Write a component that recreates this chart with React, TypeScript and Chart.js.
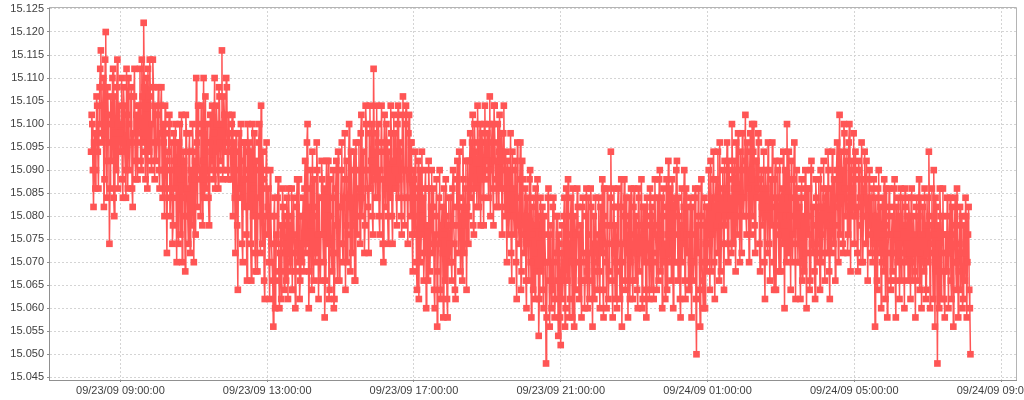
import React, { useEffect, useRef } from "react";
import { Chart, registerables } from "chart.js";

Chart.register(...registerables);

// one sample per minute, starting 09/23/09 08:12:00 (minutes since 09/23/09 00:00)
const START_MINUTE = 8 * 60 + 12;
const STEP_MINUTES = 1;

// even minutes (08:12, 08:14, ...), one line per half hour
const evenMinuteValues: number[] = [
  15.094, 15.100, 15.082, 15.098, 15.090, 15.104, 15.086, 15.108, 15.116,
  15.096, 15.110, 15.088, 15.120, 15.084, 15.102, 15.074, 15.106, 15.092, 15.112, 15.080, 15.098, 15.108, 15.086, 15.104,
  15.094, 15.110, 15.084, 15.104, 15.090, 15.112, 15.086, 15.100, 15.096, 15.108, 15.082, 15.106, 15.092, 15.102, 15.088,
  15.098, 15.112, 15.090, 15.106, 15.122, 15.094, 15.110, 15.086, 15.104, 15.114, 15.092, 15.100, 15.108, 15.088, 15.102,
  15.096, 15.108, 15.086, 15.104, 15.090, 15.100, 15.080, 15.098, 15.072, 15.094, 15.102, 15.084, 15.096, 15.078, 15.092,
  15.100, 15.070, 15.090, 15.096, 15.076, 15.102, 15.084, 15.092, 15.068, 15.098, 15.080, 15.094, 15.072, 15.088, 15.100,
  15.070, 15.092, 15.110, 15.082, 15.098, 15.088, 15.104, 15.078, 15.110, 15.094, 15.086, 15.100, 15.084, 15.096, 15.090,
  15.104, 15.088, 15.110, 15.094, 15.100, 15.086, 15.106, 15.092, 15.116, 15.090, 15.102, 15.096, 15.108, 15.088, 15.098,
  15.094, 15.100, 15.080, 15.096, 15.072, 15.090, 15.064, 15.098, 15.084, 15.092, 15.070, 15.088, 15.096, 15.076, 15.100,
  15.082, 15.094, 15.066, 15.100, 15.086, 15.072, 15.092, 15.068, 15.096, 15.080, 15.104, 15.074, 15.088, 15.062, 15.090,
  15.076, 15.086, 15.062, 15.080, 15.070, 15.056, 15.084, 15.066, 15.074, 15.088, 15.060, 15.078, 15.068, 15.082, 15.064,
  15.072, 15.084, 15.062, 15.078, 15.068, 15.086, 15.064, 15.076, 15.060, 15.082, 15.070, 15.088, 15.066, 15.074, 15.080,
  15.068, 15.092, 15.074, 15.100, 15.060, 15.086, 15.078, 15.094, 15.066, 15.082, 15.072, 15.090, 15.062, 15.084, 15.076,
  15.088, 15.070, 15.058, 15.084, 15.074, 15.092, 15.064, 15.080, 15.068, 15.090, 15.062, 15.086, 15.072, 15.094, 15.066,
  15.082, 15.096, 15.070, 15.088, 15.064, 15.092, 15.076, 15.100, 15.068, 15.084, 15.078, 15.094, 15.066, 15.090, 15.080,
  15.096, 15.074, 15.102, 15.084, 15.090, 15.078, 15.100, 15.086, 15.072, 15.104, 15.092, 15.080, 15.112, 15.088, 15.098,
  15.084, 15.100, 15.076, 15.094, 15.088, 15.070, 15.102, 15.082, 15.096, 15.074, 15.090, 15.104, 15.080, 15.092, 15.086,
  15.098, 15.078, 15.104, 15.088, 15.094, 15.076, 15.106, 15.084, 15.100, 15.090, 15.074, 15.102, 15.080, 15.096, 15.068,
  15.088, 15.094, 15.070, 15.084, 15.062, 15.090, 15.076, 15.080, 15.066, 15.086, 15.060, 15.078, 15.092, 15.068, 15.082,
  15.072, 15.086, 15.060, 15.080, 15.056, 15.074, 15.090, 15.064, 15.082, 15.058, 15.076, 15.088, 15.062, 15.078, 15.070,
  15.084, 15.066, 15.090, 15.074, 15.062, 15.088, 15.078, 15.094, 15.068, 15.082, 15.096, 15.072, 15.086, 15.064, 15.092,
  15.080, 15.098, 15.086, 15.102, 15.076, 15.094, 15.090, 15.104, 15.082, 15.100, 15.088, 15.096, 15.078, 15.104, 15.092,
  15.098, 15.084, 15.106, 15.090, 15.100, 15.078, 15.104, 15.088, 15.096, 15.082, 15.102, 15.092, 15.076, 15.098, 15.086,
  15.094, 15.070, 15.090, 15.080, 15.098, 15.066, 15.086, 15.076, 15.092, 15.062, 15.084, 15.074, 15.096, 15.068, 15.088,
  15.072, 15.086, 15.060, 15.080, 15.066, 15.090, 15.058, 15.076, 15.084, 15.062, 15.078, 15.088, 15.054, 15.074, 15.068,
  15.082, 15.060, 15.076, 15.048, 15.070, 15.086, 15.056, 15.078, 15.064, 15.084, 15.058, 15.072, 15.080, 15.054, 15.074,
  15.052, 15.078, 15.066, 15.084, 15.060, 15.074, 15.088, 15.058, 15.080, 15.070, 15.086, 15.056, 15.076, 15.064, 15.082,
  15.062, 15.078, 15.058, 15.084, 15.070, 15.066, 15.086, 15.060, 15.076, 15.072, 15.082, 15.056, 15.080, 15.068, 15.074,
  15.064, 15.084, 15.060, 15.076, 15.088, 15.058, 15.080, 15.070, 15.086, 15.062, 15.074, 15.094, 15.066, 15.082, 15.072,
  15.078, 15.060, 15.086, 15.068, 15.082, 15.056, 15.074, 15.088, 15.064, 15.080, 15.058, 15.084, 15.070, 15.076, 15.062,
  15.086, 15.066, 15.078, 15.060, 15.084, 15.072, 15.088, 15.062, 15.076, 15.082, 15.058, 15.080, 15.070, 15.086, 15.064,
  15.080, 15.062, 15.088, 15.072, 15.084, 15.066, 15.090, 15.076, 15.060, 15.086, 15.074, 15.082, 15.064, 15.092, 15.070,
  15.078, 15.088, 15.060, 15.084, 15.070, 15.092, 15.066, 15.080, 15.058, 15.086, 15.074, 15.090, 15.062, 15.076, 15.082,
  15.064, 15.084, 15.058, 15.076, 15.070, 15.086, 15.050, 15.072, 15.080, 15.056, 15.088, 15.066, 15.078, 15.060, 15.082,
  15.070, 15.090, 15.064, 15.084, 15.076, 15.094, 15.062, 15.088, 15.072, 15.080, 15.096, 15.068, 15.086, 15.074, 15.092,
  15.078, 15.096, 15.070, 15.088, 15.084, 15.100, 15.074, 15.092, 15.068, 15.086, 15.098, 15.080, 15.094, 15.072, 15.090,
  15.084, 15.102, 15.076, 15.094, 15.070, 15.098, 15.088, 15.080, 15.100, 15.072, 15.092, 15.086, 15.096, 15.068, 15.090,
  15.078, 15.094, 15.062, 15.086, 15.072, 15.090, 15.066, 15.082, 15.096, 15.070, 15.088, 15.064, 15.084, 15.076, 15.092,
  15.068, 15.086, 15.094, 15.060, 15.080, 15.100, 15.072, 15.088, 15.064, 15.084, 15.076, 15.096, 15.062, 15.090, 15.070,
  15.082, 15.062, 15.088, 15.074, 15.068, 15.090, 15.060, 15.080, 15.086, 15.066, 15.092, 15.072, 15.078, 15.062, 15.084,
  15.070, 15.088, 15.064, 15.082, 15.076, 15.092, 15.066, 15.086, 15.072, 15.090, 15.062, 15.080, 15.094, 15.074, 15.084,
  15.078, 15.096, 15.070, 15.102, 15.084, 15.090, 15.072, 15.098, 15.080, 15.094, 15.076, 15.100, 15.068, 15.092, 15.086,
  15.074, 15.094, 15.082, 15.068, 15.090, 15.078, 15.096, 15.070, 15.086, 15.080, 15.092, 15.066, 15.088, 15.076, 15.084,
  15.070, 15.088, 15.056, 15.080, 15.064, 15.090, 15.074, 15.060, 15.084, 15.068, 15.078, 15.086, 15.058, 15.076, 15.082,
  15.064, 15.080, 15.072, 15.088, 15.058, 15.076, 15.084, 15.062, 15.086, 15.070, 15.078, 15.060, 15.082, 15.074, 15.066,
  15.080, 15.062, 15.086, 15.070, 15.076, 15.058, 15.084, 15.066, 15.088, 15.072, 15.060, 15.082, 15.068, 15.078, 15.064,
  15.084, 15.094, 15.060, 15.078, 15.072, 15.090, 15.056, 15.082, 15.048, 15.074, 15.086, 15.062, 15.080, 15.068, 15.058,
  15.076, 15.084, 15.060, 15.072, 15.066, 15.082, 15.056, 15.078, 15.070, 15.086, 15.058, 15.074, 15.064, 15.080, 15.062,
  15.072, 15.084, 15.058, 15.076, 15.064, 15.050,
];

// odd minutes (08:13, 08:15, ...), one line per half hour
const oddMinuteValues: number[] = [
  15.102, 15.090, 15.096, 15.086, 15.106, 15.094, 15.100, 15.112, 15.098,
  15.104, 15.082, 15.114, 15.092, 15.108, 15.096, 15.086, 15.100, 15.110, 15.084, 15.106, 15.090, 15.114, 15.094, 15.098,
  15.100, 15.088, 15.108, 15.094, 15.084, 15.102, 15.110, 15.090, 15.106, 15.086, 15.098, 15.112, 15.088, 15.096, 15.104,
  15.104, 15.092, 15.114, 15.096, 15.108, 15.088, 15.102, 15.112, 15.094, 15.106, 15.090, 15.114, 15.096, 15.104, 15.092,
  15.102, 15.090, 15.098, 15.108, 15.084, 15.096, 15.104, 15.086, 15.092, 15.100, 15.080, 15.090, 15.074, 15.098, 15.086,
  15.084, 15.096, 15.074, 15.100, 15.088, 15.070, 15.094, 15.080, 15.102, 15.086, 15.074, 15.098, 15.090, 15.078, 15.094,
  15.088, 15.076, 15.096, 15.104, 15.090, 15.080, 15.100, 15.092, 15.084, 15.106, 15.088, 15.096, 15.078, 15.102, 15.094,
  15.092, 15.098, 15.086, 15.104, 15.090, 15.108, 15.096, 15.100, 15.088, 15.106, 15.094, 15.110, 15.090, 15.102, 15.096,
  15.088, 15.102, 15.092, 15.084, 15.098, 15.078, 15.094, 15.086, 15.100, 15.074, 15.096, 15.082, 15.090, 15.066, 15.094,
  15.096, 15.074, 15.088, 15.080, 15.098, 15.068, 15.090, 15.084, 15.100, 15.072, 15.086, 15.094, 15.066, 15.080, 15.096,
  15.082, 15.070, 15.090, 15.074, 15.066, 15.080, 15.060, 15.076, 15.084, 15.068, 15.072, 15.062, 15.086, 15.074, 15.080,
  15.066, 15.078, 15.086, 15.070, 15.080, 15.064, 15.084, 15.072, 15.068, 15.088, 15.074, 15.062, 15.080, 15.070, 15.084,
  15.086, 15.072, 15.096, 15.082, 15.068, 15.090, 15.064, 15.080, 15.088, 15.070, 15.096, 15.076, 15.084, 15.066, 15.092,
  15.076, 15.086, 15.066, 15.092, 15.080, 15.062, 15.088, 15.072, 15.084, 15.060, 15.078, 15.092, 15.066, 15.082, 15.074,
  15.090, 15.074, 15.084, 15.098, 15.078, 15.070, 15.088, 15.082, 15.094, 15.072, 15.090, 15.066, 15.096, 15.076, 15.086,
  15.084, 15.098, 15.080, 15.094, 15.072, 15.104, 15.090, 15.082, 15.098, 15.086, 15.100, 15.076, 15.094, 15.084, 15.104,
  15.096, 15.080, 15.090, 15.104, 15.074, 15.096, 15.086, 15.100, 15.080, 15.094, 15.084, 15.098, 15.074, 15.102, 15.090,
  15.086, 15.100, 15.084, 15.096, 15.080, 15.102, 15.090, 15.078, 15.104, 15.084, 15.098, 15.088, 15.096, 15.076, 15.090,
  15.076, 15.086, 15.064, 15.092, 15.080, 15.070, 15.094, 15.084, 15.072, 15.090, 15.078, 15.066, 15.086, 15.074, 15.090,
  15.082, 15.064, 15.076, 15.088, 15.068, 15.084, 15.062, 15.078, 15.072, 15.086, 15.066, 15.080, 15.058, 15.084, 15.074,
  15.070, 15.086, 15.078, 15.064, 15.082, 15.092, 15.072, 15.084, 15.080, 15.066, 15.088, 15.078, 15.092, 15.082, 15.074,
  15.092, 15.084, 15.096, 15.078, 15.100, 15.086, 15.082, 15.096, 15.090, 15.078, 15.098, 15.084, 15.100, 15.088, 15.096,
  15.090, 15.100, 15.080, 15.096, 15.086, 15.104, 15.092, 15.082, 15.100, 15.094, 15.086, 15.098, 15.090, 15.104, 15.080,
  15.082, 15.092, 15.076, 15.086, 15.072, 15.094, 15.080, 15.090, 15.070, 15.096, 15.078, 15.088, 15.064, 15.092, 15.076,
  15.080, 15.066, 15.084, 15.074, 15.088, 15.070, 15.082, 15.064, 15.072, 15.086, 15.068, 15.080, 15.062, 15.084, 15.076,
  15.064, 15.080, 15.070, 15.058, 15.084, 15.066, 15.076, 15.060, 15.082, 15.070, 15.062, 15.080, 15.066, 15.076, 15.058,
  15.072, 15.062, 15.080, 15.056, 15.086, 15.066, 15.076, 15.062, 15.084, 15.058, 15.074, 15.080, 15.064, 15.086, 15.070,
  15.076, 15.066, 15.082, 15.072, 15.060, 15.080, 15.068, 15.084, 15.062, 15.086, 15.066, 15.074, 15.062, 15.084, 15.070,
  15.076, 15.068, 15.082, 15.072, 15.064, 15.086, 15.074, 15.060, 15.078, 15.068, 15.084, 15.078, 15.058, 15.086, 15.062,
  15.070, 15.082, 15.074, 15.062, 15.088, 15.070, 15.080, 15.066, 15.084, 15.072, 15.078, 15.062, 15.086, 15.066, 15.082,
  15.072, 15.080, 15.064, 15.086, 15.068, 15.078, 15.060, 15.082, 15.070, 15.064, 15.084, 15.074, 15.062, 15.078, 15.082,
  15.070, 15.084, 15.076, 15.064, 15.078, 15.088, 15.068, 15.084, 15.080, 15.070, 15.062, 15.088, 15.076, 15.072, 15.086,
  15.066, 15.074, 15.082, 15.070, 15.090, 15.076, 15.084, 15.062, 15.078, 15.070, 15.082, 15.066, 15.086, 15.072, 15.064,
  15.076, 15.070, 15.082, 15.066, 15.084, 15.062, 15.078, 15.086, 15.064, 15.080, 15.070, 15.060, 15.084, 15.074, 15.068,
  15.082, 15.074, 15.092, 15.068, 15.088, 15.070, 15.084, 15.078, 15.094, 15.066, 15.084, 15.078, 15.090, 15.064, 15.080,
  15.086, 15.074, 15.092, 15.080, 15.072, 15.090, 15.086, 15.080, 15.096, 15.076, 15.090, 15.070, 15.084, 15.098, 15.080,
  15.092, 15.080, 15.096, 15.086, 15.090, 15.076, 15.100, 15.094, 15.078, 15.092, 15.084, 15.098, 15.074, 15.088, 15.082,
  15.086, 15.070, 15.090, 15.080, 15.096, 15.074, 15.088, 15.078, 15.084, 15.064, 15.092, 15.078, 15.090, 15.068, 15.080,
  15.084, 15.074, 15.078, 15.090, 15.070, 15.084, 15.094, 15.080, 15.092, 15.070, 15.088, 15.074, 15.086, 15.078, 15.084,
  15.070, 15.086, 15.066, 15.080, 15.084, 15.072, 15.086, 15.076, 15.064, 15.090, 15.074, 15.082, 15.068, 15.088, 15.072,
  15.082, 15.074, 15.090, 15.070, 15.086, 15.072, 15.084, 15.078, 15.094, 15.068, 15.086, 15.072, 15.078, 15.088, 15.066,
  15.090, 15.082, 15.088, 15.076, 15.094, 15.074, 15.100, 15.086, 15.092, 15.072, 15.096, 15.084, 15.090, 15.080, 15.098,
  15.088, 15.080, 15.072, 15.092, 15.084, 15.070, 15.088, 15.080, 15.094, 15.074, 15.084, 15.078, 15.090, 15.072, 15.086,
  15.080, 15.074, 15.084, 15.066, 15.086, 15.072, 15.082, 15.070, 15.076, 15.088, 15.062, 15.080, 15.072, 15.086, 15.066,
  15.076, 15.068, 15.086, 15.066, 15.082, 15.070, 15.074, 15.080, 15.066, 15.084, 15.072, 15.086, 15.070, 15.080, 15.084,
  15.072, 15.084, 15.066, 15.080, 15.068, 15.082, 15.072, 15.080, 15.064, 15.084, 15.076, 15.070, 15.086, 15.062, 15.084,
  15.070, 15.080, 15.074, 15.086, 15.062, 15.076, 15.084, 15.068, 15.078, 15.060, 15.080, 15.072, 15.086, 15.062, 15.076,
  15.068, 15.080, 15.072, 15.084, 15.062, 15.076, 15.070, 15.084, 15.064, 15.078, 15.068, 15.082, 15.072, 15.060, 15.078,
  15.066, 15.080, 15.070, 15.082, 15.060,
];

const values: number[] = evenMinuteValues.flatMap((v, i) =>
  i < oddMinuteValues.length ? [v, oddMinuteValues[i]] : [v]
);

const xTickMinutes = [540, 780, 1020, 1260, 1500, 1740, 1980];
const xTickLabels = [
  "09/23/09 09:00:00",
  "09/23/09 13:00:00",
  "09/23/09 17:00:00",
  "09/23/09 21:00:00",
  "09/24/09 01:00:00",
  "09/24/09 05:00:00",
  "09/24/09 09:00:00",
];
const yTicks = [
  15.045, 15.05, 15.055, 15.06, 15.065, 15.07, 15.075, 15.08, 15.085,
  15.09, 15.095, 15.1, 15.105, 15.11, 15.115, 15.12, 15.125,
];

const FONT = { family: "'Liberation Sans', Arial, sans-serif", size: 11 };

// grey outline on the top and right of the plot
const plotFrame = {
  id: "plotFrame",
  afterDraw(chart: Chart) {
    const { ctx, chartArea } = chart;
    ctx.save();
    ctx.strokeStyle = "#b4b4b4";
    ctx.lineWidth = 1;
    ctx.beginPath();
    ctx.moveTo(chartArea.left, chartArea.top + 0.5);
    ctx.lineTo(chartArea.right + 0.5, chartArea.top + 0.5);
    ctx.lineTo(chartArea.right + 0.5, chartArea.bottom);
    ctx.stroke();
    ctx.restore();
  },
};

const App: React.FC = () => {
  const chartRef = useRef<HTMLCanvasElement>(null);
  const chartInstance = useRef<Chart | null>(null);

  useEffect(() => {
    if (!chartRef.current) return;
    if (chartInstance.current) chartInstance.current.destroy();

    const ctx = chartRef.current.getContext("2d");
    if (!ctx) return;

    chartInstance.current = new Chart(ctx, {
      type: "line",
      data: {
        datasets: [
          {
            label: "value",
            data: values.map((v, i) => ({ x: START_MINUTE + i * STEP_MINUTES, y: v })),
            borderColor: "#ff5555",
            borderWidth: 1.5,
            backgroundColor: "#ff5555",
            pointStyle: "rect",
            pointRadius: 4.7,
            pointBorderWidth: 0,
            pointBackgroundColor: "#ff5555",
            tension: 0,
            fill: false,
          },
        ],
      },
      options: {
        responsive: false,
        animation: false,
        layout: { padding: { left: 0, right: 8, top: 7, bottom: 0 } },
        plugins: {
          legend: { display: false },
          tooltip: { enabled: false },
        },
        scales: {
          x: {
            type: "linear",
            min: 423.2,
            max: 2004.5,
            afterBuildTicks: (scale: any) => {
              scale.ticks = xTickMinutes.map((value) => ({ value }));
            },
            afterFit: (scale: any) => {
              scale.height = 20;
              scale.paddingLeft = 0;
              scale.paddingRight = 0;
            },
            ticks: {
              autoSkip: false,
              maxRotation: 0,
              minRotation: 0,
              padding: 2,
              color: "#404040",
              font: FONT,
              callback: (_value: any, index: number) => xTickLabels[index],
            },
            grid: {
              color: "#d4d4d4",
              tickColor: "#909090",
              tickLength: 2,
            },
            border: { color: "#909090", dash: [2, 2] },
          },
          y: {
            type: "linear",
            min: 15.04441,
            max: 15.12543,
            afterBuildTicks: (scale: any) => {
              scale.ticks = yTicks.map((value) => ({ value }));
            },
            afterFit: (scale: any) => {
              scale.width = 49;
              scale.paddingTop = 0;
              scale.paddingBottom = 0;
            },
            ticks: {
              padding: 3,
              color: "#404040",
              font: FONT,
              callback: (value: any) => Number(value).toFixed(3),
            },
            grid: {
              color: "#d4d4d4",
              tickColor: "#909090",
              tickLength: 2,
            },
            border: { color: "#909090", dash: [2, 2] },
          },
        },
      },
      plugins: [plotFrame],
    });

    return () => {
      if (chartInstance.current) {
        chartInstance.current.destroy();
        chartInstance.current = null;
      }
    };
  }, []);

  return (
    <div style={{ position: "fixed", left: 0, top: 0, width: 1024, height: 400, background: "#fff" }}>
      <canvas ref={chartRef} width={1024} height={400}></canvas>
    </div>
  );
};

export default App;
